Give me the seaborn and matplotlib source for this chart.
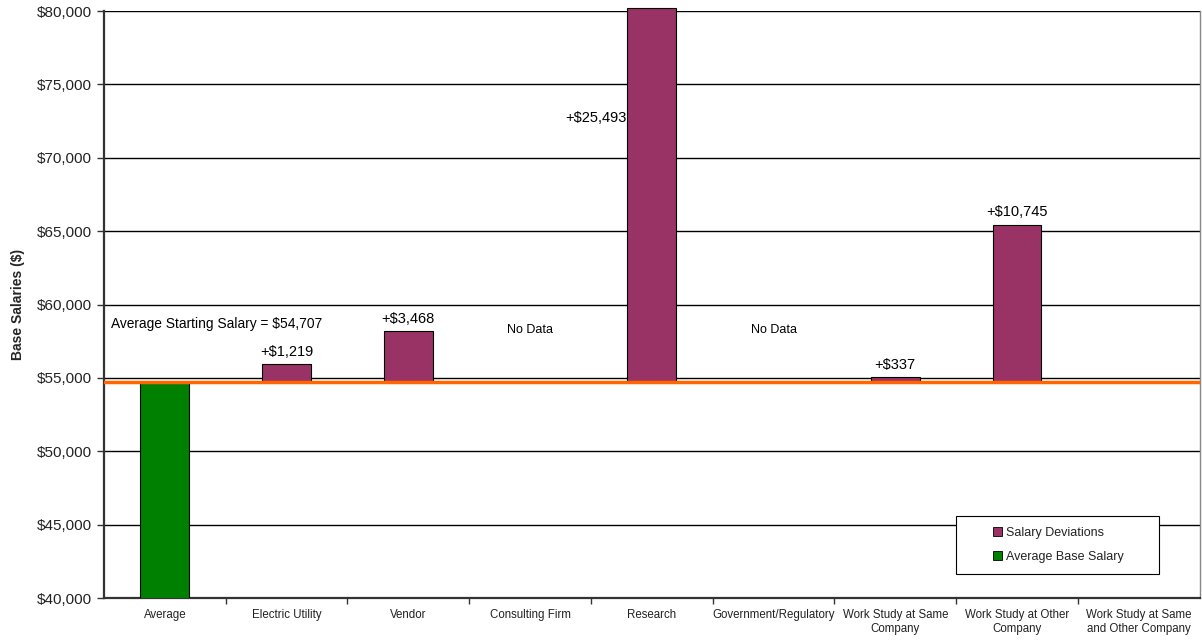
import matplotlib
matplotlib.use("Agg")
import matplotlib.pyplot as plt
from matplotlib.patches import Patch, Rectangle
from matplotlib.ticker import FuncFormatter, FixedLocator
import numpy as np
import pandas as pd
import seaborn as sns

categories = ["Average", "Electric Utility", "Vendor", "Consulting Firm", "Research",
              "Government/Regulatory", "Work Study at Same\nCompany",
              "Work Study at Other\nCompany", "Work Study at Same\nand Other Company"]
average_salary = 54707
deviations = [np.nan, 1219, 3468, np.nan, 25493, np.nan, 337, 10745, np.nan]
no_data = ["Consulting Firm", "Government/Regulatory"]

sns.set_theme(style="white")
plt.rcParams["font.family"] = ["Liberation Sans", "DejaVu Sans"]

fig = plt.figure(figsize=(12.02, 6.4), dpi=100)
ax = fig.add_axes([0.0865, 0.0656, 0.9115, 0.9172])

purple = "#993366"
green = "#008000"
orange = "#FF6600"

avg_df = pd.DataFrame({"cat": categories,
                       "val": [average_salary] + [np.nan] * (len(categories) - 1)})
dev_df = pd.DataFrame({"cat": categories, "val": deviations})

sns.barplot(data=avg_df, x="cat", y="val", order=categories, color=green,
            saturation=1, width=0.4, edgecolor="black", linewidth=0.8, ax=ax,
            zorder=3)
n_avg = len(ax.patches)
sns.barplot(data=dev_df, x="cat", y="val", order=categories, color=purple,
            saturation=1, width=0.4, edgecolor="black", linewidth=0.8, ax=ax,
            bottom=average_salary, zorder=3)
# let the tallest deviation bar poke just above the top gridline
for p in ax.patches[n_avg:]:
    p.set_clip_on(False)

ax.set_ylim(40000, 80000)
ax.set_xlim(-0.5, len(categories) - 0.5)
ax.yaxis.set_major_locator(FixedLocator(np.arange(40000, 80001, 5000)))
ax.yaxis.set_major_formatter(FuncFormatter(lambda v, _: f"${v:,.0f}"))
ax.grid(axis="y", color="black", linewidth=1.0, zorder=0)
ax.set_axisbelow(True)

# average reference line
ax.axhline(average_salary, color=orange, linewidth=2.5, zorder=4)

# value labels
for i, d in enumerate(deviations):
    if np.isnan(d):
        continue
    top = average_salary + d
    if top > 80000:
        ax.text(i - 0.205, 72700, f"+${d:,.0f}", ha="right", va="center",
                fontsize=10.5, color="black")
    else:
        ax.text(i, top + 350, f"+${d:,.0f}", ha="center", va="bottom",
                fontsize=10.5, color="black")
for c in no_data:
    ax.text(categories.index(c), 58250, "No Data", ha="center", va="center",
            fontsize=9, color="black")
ax.text(-0.445, 58650, f"Average Starting Salary = ${average_salary:,.0f}",
        ha="left", va="center", fontsize=9.9, color="black")

# axes styling
for side in ["left", "bottom"]:
    ax.spines[side].set_color("#333333")
    ax.spines[side].set_linewidth(1.6)
ax.spines["top"].set_visible(False)
ax.spines["right"].set_color("#888888")
ax.spines["right"].set_linewidth(1.0)

ax.set_xlabel("")
ax.set_ylabel("Base Salaries ($)", fontsize=10, fontweight="bold", labelpad=8)
ax.tick_params(axis="y", which="major", left=True, length=5, width=1,
               color="#333333", labelsize=11, pad=4, labelcolor="#222222")
ax.tick_params(axis="x", which="major", length=0, labelsize=8.3, pad=8,
               labelcolor="#222222")
ax.set_xticks(range(len(categories)))
ax.set_xticklabels(categories)
ax.set_xticks(np.arange(0.5, len(categories) - 0.5, 1.0), minor=True)
ax.tick_params(axis="x", which="minor", bottom=True, length=4, width=1,
               color="#333333")

# legend with a wide rectangular frame
ax.add_patch(Rectangle((0.778, 0.041), 0.185, 0.099, transform=ax.transAxes,
                       facecolor="white", edgecolor="black", linewidth=0.8,
                       zorder=5))
handles = [Patch(facecolor=purple, edgecolor="black", linewidth=0.6),
           Patch(facecolor=green, edgecolor="black", linewidth=0.6)]
leg = ax.legend(handles, ["Salary Deviations", "Average Base Salary"],
                loc="center", bbox_to_anchor=(0.871, 0.0905), fontsize=9,
                frameon=False, handlelength=0.7, handleheight=0.7,
                handletextpad=0.3, labelspacing=1.0, borderpad=0,
                borderaxespad=0)
leg.set_zorder(6)
for t in leg.get_texts():
    t.set_color("#222222")

fig.savefig("out.png", dpi=100)
